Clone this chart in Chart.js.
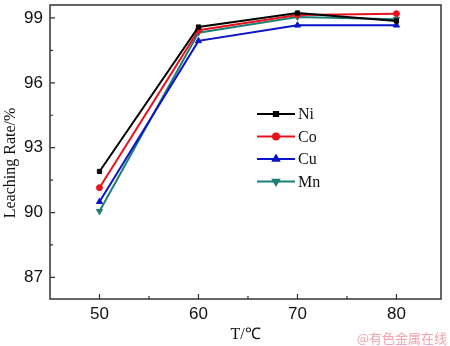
<!DOCTYPE html>
<html>
<head>
<meta charset="utf-8">
<script src="https://cdn.jsdelivr.net/npm/chart.js@4"></script>
<style>
  html, body { margin: 0; padding: 0; background: #fff; }
  #wrap { width: 450px; height: 346px; position: relative; }
</style>
</head>
<body>
<div id="wrap"><canvas id="Chart" width="450" height="346"></canvas></div>
<script>
const temps = [50, 60, 70, 80];
const niData = [91.9, 98.58, 99.23, 98.86];
const coData = [91.15, 98.43, 99.14, 99.2];
const cuData = [90.5, 97.94, 98.66, 98.66];
const mnData = [90.06, 98.32, 99.05, 98.94];
const xTicks = [50, 60, 70, 80];
const yTicks = [87, 90, 93, 96, 99];
const yTitle = 'Leaching Rate/%';

function toPoints(values) {
    return temps.map((t, i) => ({ x: t, y: values[i] }));
}

function series(label, values, color, style, rotation) {
    return {
        label: label,
        data: toPoints(values),
        borderColor: color,
        backgroundColor: color,
        borderWidth: 2,
        pointStyle: style,
        pointRotation: rotation || 0,
        pointRadius: style === 'triangle' ? 3.5 : 3,
        pointBorderWidth: 1,
        tension: 0
    };
}

// frame, inward ticks, y title, legend box and watermark
const decorations = {
    id: 'decorations',
    afterDraw(chart) {
        const c = chart.ctx;
        const a = chart.chartArea;
        const xs = chart.scales.x;
        const ys = chart.scales.y;
        c.save();
        c.strokeStyle = '#333';
        c.lineWidth = 1.5;
        c.strokeRect(a.left, a.top, a.right - a.left, a.bottom - a.top);

        c.lineWidth = 1.2;
        c.beginPath();
        for (let v = 45; v <= 85; v += 5) {
            const px = xs.getPixelForValue(v);
            if (px < a.left + 1 || px > a.right - 1) continue;
            const len = v % 10 === 0 ? 5 : 3;
            c.moveTo(px, a.bottom);
            c.lineTo(px, a.bottom - len);
        }
        for (let v = 85.5; v <= 99.6; v += 1.5) {
            const py = ys.getPixelForValue(v);
            if (py < a.top + 1 || py > a.bottom - 1) continue;
            const len = yTicks.includes(Math.round(v * 10) / 10) ? 5 : 3;
            c.moveTo(a.left, py);
            c.lineTo(a.left + len, py);
        }
        c.stroke();

        c.save();
        c.translate(11, 163);
        c.rotate(-Math.PI / 2);
        c.fillStyle = '#111';
        c.font = '16px "Liberation Serif", serif';
        c.textAlign = 'center';
        c.textBaseline = 'middle';
        c.fillText(yTitle, 0, 0);
        c.restore();

        // legend
        const lx = 257, ly = 114, gap = 22.5;
        chart.data.datasets.forEach((ds, i) => {
            const y = ly + i * gap;
            c.strokeStyle = ds.borderColor;
            c.lineWidth = 2;
            c.beginPath();
            c.moveTo(lx, y);
            c.lineTo(lx + 38, y);
            c.stroke();
            Chart.helpers.drawPoint(c, {
                pointStyle: ds.pointStyle,
                rotation: ds.pointRotation,
                radius: ds.pointRadius,
                borderWidth: 1
            }, lx + 19, y);
            c.fillStyle = ds.borderColor;
            c.fill();
            c.fillStyle = '#111';
            c.font = '16px "Liberation Serif", serif';
            c.textBaseline = 'middle';
            c.textAlign = 'left';
            c.fillText(ds.label, lx + 41, y + 1);
        });

        c.fillStyle = '#f2a3ad';
        c.font = '13px "Noto Sans CJK SC", sans-serif';
        c.textAlign = 'right';
        c.textBaseline = 'middle';
        c.fillText('@有色金属在线', 447, 338);
        c.restore();
    }
};

const ctx = document.getElementById('Chart').getContext('2d');
const chart = new Chart(ctx, {
    type: 'line',
    data: {
        datasets: [
            series('Ni', niData, '#000000', 'rect'),
            series('Co', coData, '#e8121c', 'circle'),
            series('Cu', cuData, '#0a14c8', 'triangle'),
            series('Mn', mnData, '#1b7f78', 'triangle', 180)
        ]
    },
    options: {
        responsive: false,
        animation: false,
        layout: { padding: { top: 4, right: 9, left: 0, bottom: 0 } },
        plugins: {
            legend: { display: false },
            tooltip: { enabled: false }
        },
        scales: {
            x: {
                type: 'linear',
                min: 45,
                max: 84.5,
                afterBuildTicks(scale) {
                    scale.ticks = xTicks.map(v => ({ value: v }));
                },
                afterFit(scale) {
                    scale.height = 47;
                    scale.paddingLeft = 0;
                    scale.paddingRight = 0;
                },
                grid: { display: false, tickLength: 0 },
                border: { display: false },
                ticks: {
                    color: '#111',
                    padding: 5,
                    font: { family: '"Liberation Sans", Arial, sans-serif', size: 17 }
                },
                title: {
                    display: true,
                    text: 'T/℃',
                    color: '#111',
                    padding: { top: 0, bottom: 2 },
                    font: { family: '"Liberation Serif", serif', size: 16 }
                }
            },
            y: {
                min: 86,
                max: 99.6,
                afterBuildTicks(scale) {
                    scale.ticks = yTicks.map(v => ({ value: v }));
                },
                afterFit(scale) {
                    scale.width = 50;
                    scale.paddingTop = 0;
                    scale.paddingBottom = 0;
                },
                grid: { display: false, tickLength: 0 },
                border: { display: false },
                ticks: {
                    color: '#111',
                    padding: 7,
                    font: { family: '"Liberation Sans", Arial, sans-serif', size: 17 }
                }
            }
        }
    },
    plugins: [decorations]
});
</script>
</body>
</html>
